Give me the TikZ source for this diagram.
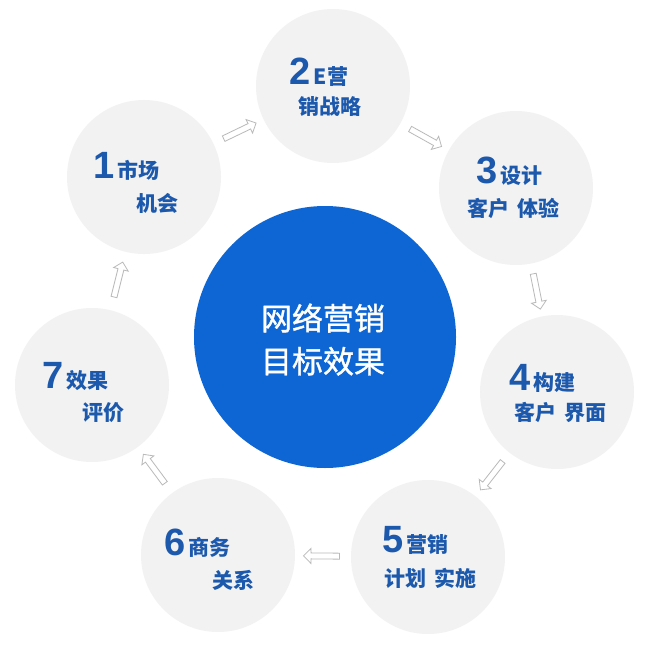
\documentclass[tikz,border=0pt]{standalone}
\usepackage{fontspec}
\setmainfont{Noto Sans CJK SC}
\newfontfamily\numfont{Liberation Sans}
\newfontfamily\hubfont{Noto Sans CJK SC}[FakeBold=1.2]
\usetikzlibrary{shapes.arrows}
\definecolor{centreblue}{RGB}{14,102,212}
\definecolor{labelblue}{RGB}{28,88,172}
\definecolor{discgray}{RGB}{242,242,242}
\definecolor{arrowgray}{RGB}{185,185,185}
\tikzset{
  disc/.style={circle, fill=discgray, minimum size=154pt, inner sep=0pt},
  hub/.style={circle, fill=centreblue, minimum size=262pt, inner sep=0pt},
  lbl/.style={anchor=base west, inner sep=0pt, text=labelblue, font=\bfseries\fontsize{21}{26}\selectfont},
  hubtext/.style={anchor=base, inner sep=0pt, text=white, font=\hubfont\fontsize{31}{36}\selectfont},
  flowarrow/.style={single arrow, draw=arrowgray, fill=white, line width=0.8pt,
    minimum height=36pt, inner sep=2.6pt, single arrow head extend=4.5pt,
    sloped, allow upside down, midway}
}
\newcommand{\bignum}[1]{{\numfont\bfseries\fontsize{38}{40}\selectfont #1}}
\begin{document}
\begin{tikzpicture}[x=1pt,y=-1pt]
\useasboundingbox (0,0) rectangle (650,650);
\fill[white] (0,0) rectangle (650,650);
% discs
\node[hub]  (hub) at (325,337) {};
\node[disc] (c1) at (144,177) {};
\node[disc] (c2) at (333,86) {};
\node[disc] (c3) at (516,188) {};
\node[disc] (c4) at (557,392) {};
\node[disc] (c5) at (428,557) {};
\node[disc] (c6) at (218,555) {};
\node[disc] (c7) at (92,385) {};
% centre text
\node[hubtext] (h1) at (323,330) {网络营销};
\node[hubtext] (h2) at (323,373) {目标效果};
% labels
\node[lbl] (l1a) at (93,178) {\bignum{1}\,市场};
\node[lbl] (l1b) at (136,211) {机会};
\node[lbl] (l2a) at (289,85) {\bignum{2}\,E营};
\node[lbl] (l2b) at (298,115) {销战略};
\node[lbl] (l3a) at (476,183) {\bignum{3}\,设计};
\node[lbl] (l3b) at (467,216) {客户\hspace{0.4em}体验};
\node[lbl] (l4a) at (509,390) {\bignum{4}\,构建};
\node[lbl] (l4b) at (514,420) {客户\hspace{0.4em}界面};
\node[lbl] (l5a) at (382,552) {\bignum{5}\,营销};
\node[lbl] (l5b) at (384,586) {计划\hspace{0.4em}实施};
\node[lbl] (l6a) at (164,555) {\bignum{6}\,商务};
\node[lbl] (l6b) at (212,588) {关系};
\node[lbl] (l7a) at (42,388) {\bignum{7}\,效果};
\node[lbl] (l7b) at (82,420) {评价};
% arrows
\path (c1) -- node[flowarrow] (a12) {} (c2);
\path (c2) -- node[flowarrow] (a23) {} (c3);
\path (c3) -- node[flowarrow] (a34) {} (c4);
\path (c4) -- node[flowarrow] (a45) {} (c5);
\path (c5) -- node[flowarrow] (a56) {} (c6);
\path (c6) -- node[flowarrow] (a67) {} (c7);
\path (c7) -- node[flowarrow] (a71) {} (c1);
\end{tikzpicture}
\end{document}
